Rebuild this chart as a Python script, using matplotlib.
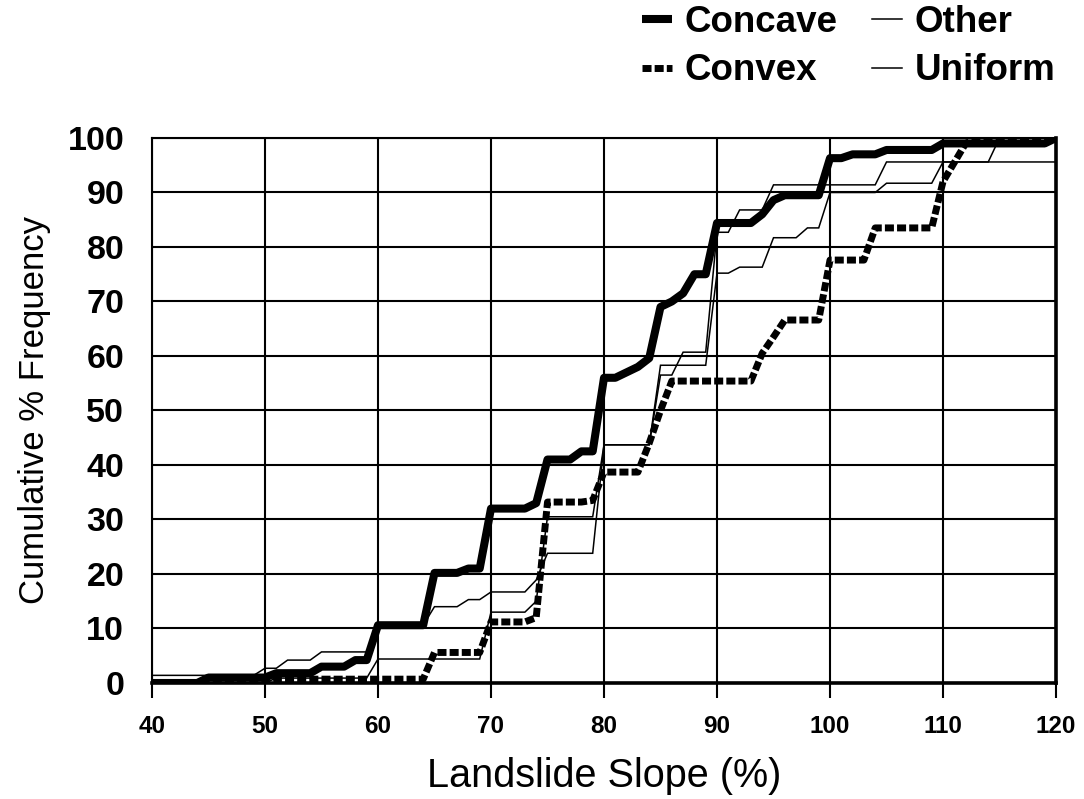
import matplotlib
matplotlib.use("Agg")
import matplotlib.pyplot as plt
from matplotlib.lines import Line2D

plt.rcParams['font.family'] = ['Liberation Sans', 'DejaVu Sans']

# Cumulative frequency curves by slope form
concave_x = [40, 44, 45, 50, 51, 54, 55, 57, 58, 59, 60, 64, 65, 67, 68, 69, 70, 73, 74, 75,
             77, 78, 79, 80, 81, 82, 83, 84, 85, 86, 87, 88, 89, 90, 93, 94, 95, 96, 99, 100,
             101, 102, 104, 105, 109, 110, 119, 120]
concave_y = [0, 0, 1, 1, 1.8, 1.8, 3, 3, 4.2, 4.2, 10.6, 10.6, 20.2, 20.2, 21, 21, 32, 32, 33, 41,
             41, 42.5, 42.5, 56, 56, 57, 58, 59.6, 69, 70, 71.5, 75, 75, 84.4, 84.4, 86, 88.6, 89.5, 89.5, 96.3,
             96.3, 97, 97, 97.8, 97.8, 99, 99, 100]

convex_x = [40, 50, 51, 64, 65, 69, 70, 73, 74, 75, 78, 79, 80, 83, 84, 85, 86, 93, 94, 95,
            96, 99, 100, 103, 104, 109, 110, 111, 112, 113, 120]
convex_y = [0, 0, 0.7, 0.7, 5.6, 5.6, 11.2, 11.2, 12, 33.2, 33.2, 33.5, 38.7, 38.7, 44, 50, 55.4, 55.4, 60.5, 63.5,
            66.6, 66.6, 77.6, 77.6, 83.5, 83.5, 92, 95.5, 99, 100, 100]

other_x = [40, 49, 50, 51, 52, 54, 55, 59, 60, 64, 65, 67, 68, 69, 70, 73, 74, 75, 79, 80,
           84, 85, 86, 87, 89, 90, 91, 92, 94, 95, 104, 105, 114, 115, 120]
other_y = [1.4, 1.4, 2.7, 2.7, 4.2, 4.2, 5.7, 5.7, 10.6, 10.6, 14, 14, 15.3, 15.3, 16.7, 16.7, 18.9, 23.8, 23.8, 43.7,
           43.7, 56.5, 56.5, 60.7, 60.7, 82.7, 82.7, 86.8, 86.8, 91.4, 91.4, 95.6, 95.6, 100, 100]

uniform_x = [40, 50, 51, 59, 60, 69, 70, 73, 74, 75, 79, 80, 84, 85, 89, 90, 91, 92, 94, 95,
             97, 98, 99, 100, 104, 105, 109, 110, 120]
uniform_y = [0, 0, 0.9, 0.9, 4.4, 4.4, 13, 13, 15, 30.5, 30.5, 43.7, 43.7, 58.3, 58.3, 75.2, 75.2, 76.3, 76.3, 81.7,
             81.7, 83.5, 83.5, 90, 90, 91.7, 91.7, 95.6, 95.6]

x_ticks = [40, 50, 60, 70, 80, 90, 100, 110, 120]
y_ticks = [0, 10, 20, 30, 40, 50, 60, 70, 80, 90, 100]

fig = plt.figure(figsize=(10.84, 7.99), dpi=100)
ax = fig.add_axes([0.1402, 0.1452, 0.834, 0.6821])

ax.set_xlim(40, 120)
ax.set_ylim(0, 100)
ax.set_xticks(x_ticks)
ax.set_yticks(y_ticks)

ax.grid(True, color='black', linewidth=1.5, zorder=0)
ax.set_axisbelow(True)

thin_kw = dict(color='black', linewidth=1.1, solid_joinstyle='miter', zorder=3)
ax.plot(other_x, other_y, **thin_kw)
ax.plot(uniform_x, uniform_y, **thin_kw)
ax.plot(convex_x, convex_y, color='black', linewidth=5, linestyle=(0, (1.3, 0.45)),
        dash_capstyle='butt', zorder=4)
ax.plot(concave_x, concave_y, color='black', linewidth=5.8, solid_joinstyle='round',
        solid_capstyle='butt', zorder=5)

for side in ['left', 'top']:
    ax.spines[side].set_linewidth(1.5)
for side in ['right', 'bottom']:
    ax.spines[side].set_linewidth(2.6)
ax.spines['bottom'].set_zorder(6)

ax.tick_params(axis='x', direction='out', length=11, width=1.5, pad=12,
               labelsize=17.5)
ax.tick_params(axis='y', length=0, pad=20, labelsize=24.5)
for lab in ax.get_xticklabels() + ax.get_yticklabels():
    lab.set_fontweight('bold')

ax.set_xlabel('Landslide Slope (%)', fontsize=28.5, labelpad=14)
ax.set_ylabel('Cumulative % Frequency', fontsize=25, labelpad=12)

handles = [
    Line2D([], [], color='black', linewidth=5.8, solid_capstyle='butt'),
    Line2D([], [], color='black', linewidth=5, linestyle=(0, (1.3, 0.45)), dash_capstyle='butt'),
    Line2D([], [], color='black', linewidth=1.1),
    Line2D([], [], color='black', linewidth=1.1),
]
labels = ['Concave', 'Convex', 'Other', 'Uniform']
fig.legend(handles, labels, ncol=2, loc='upper right', bbox_to_anchor=(1.004, 1.035),
           frameon=False, prop={'weight': 'bold', 'size': 26.5},
           handlelength=0.82, handletextpad=0.33, columnspacing=0.95, labelspacing=0.36)

fig.savefig('out.png', dpi=100)
